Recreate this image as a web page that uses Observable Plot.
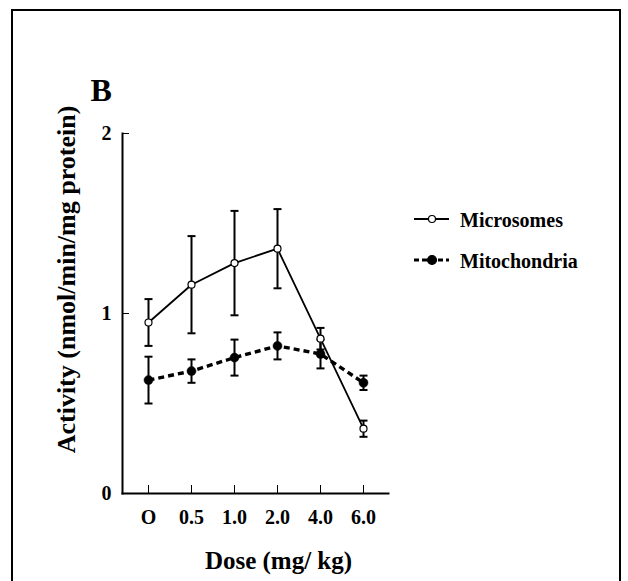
<!DOCTYPE html>
<html>
<head>
<meta charset="utf-8">
<script src="https://cdn.jsdelivr.net/npm/d3@7"></script>
<script src="https://cdn.jsdelivr.net/npm/@observablehq/plot@0.6"></script>
<style>
  html, body { margin: 0; padding: 0; background: #fff; overflow: hidden; }
  #wrap { position: relative; width: 628px; height: 581px; }
  #border { position: absolute; left: 11px; top: 9px; width: 606px; height: 700px; border: 2px solid #000; box-sizing: content-box; }
  #chart { position: absolute; left: 0; top: 0; }
  #legend { position: absolute; left: 400px; top: 190px; }
</style>
</head>
<body>
<div id="wrap">
  <div id="border"></div>
  <div id="chart"></div>
  <svg id="legend" width="210" height="100"></svg>
</div>
<script>
const doses = ["O", "0.5", "1.0", "2.0", "4.0", "6.0"];
const microMean = [0.95, 1.16, 1.28, 1.36, 0.86, 0.36];
const microSD   = [0.13, 0.27, 0.29, 0.22, 0.06, 0.045];
const mitoMean  = [0.63, 0.68, 0.755, 0.82, 0.775, 0.615];
const mitoSD    = [0.13, 0.065, 0.10, 0.075, 0.08, 0.04];
const seriesNames = ["Microsomes", "Mitochondria"];
const yTicks = [0, 1, 2];
const panelLabel = "B";
const xTitle = "Dose (mg/ kg)";
const yTitle = "Activity (nmol/min/mg protein)";

const micro = doses.map((d, i) => ({dose: d, mean: microMean[i], sd: microSD[i]}));
const mito = doses.map((d, i) => ({dose: d, mean: mitoMean[i], sd: mitoSD[i]}));

const font = "Liberation Serif, Times New Roman, serif";

// horizontal bar symbol for error-bar caps
const capSymbol = {
  draw(context, size) {
    const r = Math.sqrt(size / Math.PI);
    context.moveTo(-r, 0);
    context.lineTo(r, 0);
  }
};
const capOpts = {x: "dose", symbol: capSymbol, r: 4, fill: "none", stroke: "#000", strokeWidth: 2};

const chart = Plot.plot({
  width: 628,
  height: 581,
  marginLeft: 122,
  marginRight: 240,
  marginTop: 133,
  marginBottom: 88,
  style: {fontFamily: font, fontWeight: "bold", color: "#000", background: "transparent", overflow: "visible"},
  x: {type: "point", domain: doses, padding: 0.523},
  y: {domain: [0, 2]},
  marks: [
    Plot.axisY({ticks: yTicks, tickFormat: d => String(d), tickSize: -7, tickPadding: 18, fontSize: 20, label: null}),
    Plot.axisX({tickSize: -8, tickPadding: 24, fontSize: 20, label: null}),
    Plot.frame({anchor: "left", strokeWidth: 2}),
    Plot.frame({anchor: "bottom", strokeWidth: 2}),
    Plot.line(micro, {x: "dose", y: "mean", stroke: "#000", strokeWidth: 1.8}),
    Plot.line(mito, {x: "dose", y: "mean", stroke: "#000", strokeWidth: 3.4, strokeDasharray: "6,4", strokeLinecap: "butt"}),
    Plot.ruleX(micro, {x: "dose", y1: d => d.mean - d.sd, y2: d => d.mean + d.sd, stroke: "#000", strokeWidth: 2}),
    Plot.ruleX(mito, {x: "dose", y1: d => d.mean - d.sd, y2: d => d.mean + d.sd, stroke: "#000", strokeWidth: 2}),
    Plot.dot(micro, {...capOpts, y: d => d.mean + d.sd}),
    Plot.dot(micro, {...capOpts, y: d => d.mean - d.sd}),
    Plot.dot(mito, {...capOpts, y: d => d.mean + d.sd}),
    Plot.dot(mito, {...capOpts, y: d => d.mean - d.sd}),
    Plot.dot(mito, {x: "dose", y: "mean", r: 4.5, fill: "#000", stroke: "#000", strokeWidth: 0.5}),
    Plot.dot(micro, {x: "dose", y: "mean", r: 3.5, fill: "#fff", stroke: "#000", strokeWidth: 1.2}),
    Plot.text([panelLabel], {frameAnchor: "top-left", text: d => d, fontSize: 32, fontWeight: "bold", textAnchor: "start", lineAnchor: "middle", dx: -32, dy: -43}),
    Plot.text([xTitle], {frameAnchor: "bottom", text: d => d, fontSize: 25, fontWeight: "bold", textAnchor: "middle", lineAnchor: "middle", dx: 23, dy: 67}),
    Plot.text([yTitle], {frameAnchor: "left", text: d => d, fontSize: 26, fontWeight: "bold", textAnchor: "middle", lineAnchor: "middle", rotate: -90, dx: -56, dy: -34})
  ]
});
document.getElementById("chart").appendChild(chart);

// Legend
const lg = d3.select("#legend");
const items = [
  {name: seriesNames[0], y: 29, dash: null, width: 2, fill: "#fff", r: 3.5},
  {name: seriesNames[1], y: 70, dash: "5,3", width: 3, fill: "#000", r: 4.5}
];
items.forEach(it => {
  lg.append("line").attr("x1", 14).attr("x2", 49).attr("y1", it.y).attr("y2", it.y)
    .attr("stroke", "#000").attr("stroke-width", it.width).attr("stroke-dasharray", it.dash);
  lg.append("circle").attr("cx", 32).attr("cy", it.y).attr("r", it.r)
    .attr("fill", it.fill).attr("stroke", "#000").attr("stroke-width", 1.2);
  lg.append("text").attr("x", 60).attr("y", it.y + 8).text(it.name)
    .attr("font-family", font).attr("font-weight", "bold").attr("font-size", 20).attr("fill", "#000");
});
</script>
</body>
</html>
